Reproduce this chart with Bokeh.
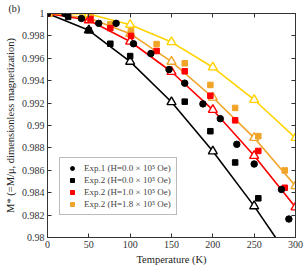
from bokeh.plotting import figure
from bokeh.models import (LinearAxis, FixedTicker, CustomJSTickFormatter, Range1d,
                          Title, Legend, LegendItem)
from bokeh.embed import file_html
from bokeh.resources import INLINE

# ---- data ----
T_model = [0, 50, 100, 150, 200, 250, 300]
model_h00 = [1.0, 0.9985, 0.9957, 0.9921, 0.9877, 0.9828, 0.9774]
model_h10 = [1.0, 0.9994, 0.9975, 0.9948, 0.9914, 0.9873, 0.9827]
model_h18 = [1.0, 0.9996, 0.9982, 0.9957, 0.9925, 0.9889, 0.9846]
model_hi = [1.0, 0.99995, 0.9990, 0.99745, 0.9952, 0.9923, 0.9889]

T_exp1 = [0, 21, 41, 62, 83, 104, 125, 147, 166, 188, 209, 229, 250, 283, 292]
M_exp1 = [1.0, 1.0, 0.99956, 0.99912, 0.99912, 0.9973, 0.99642, 0.995, 0.99378,
          0.99193, 0.99061, 0.98832, 0.98656, 0.98429, 0.98165]

T_exp2_h00 = [0, 25, 50, 76, 100, 166, 197, 227, 255]
M_exp2_h00 = [1.0, 0.9997, 0.9985, 0.9973, 0.9962, 0.99213, 0.98949, 0.9867, 0.9835]

T_exp2 = [0, 52, 76, 101, 132, 166, 197, 227, 255, 287]
M_exp2_h10 = [1.0, 0.9995, 0.9987, 0.998, 0.99665, 0.99484, 0.99266, 0.99046, 0.98773, 0.98444]
M_exp2_h18 = [1.0, 0.9999, 0.99903, 0.99842, 0.99727, 0.99555, 0.99362, 0.99157, 0.98905, 0.98599]

x_ticks = [0, 50, 100, 150, 200, 250, 300]
y_ticks = [0.98, 0.982, 0.984, 0.986, 0.988, 0.99, 0.992, 0.994, 0.996, 0.998, 1.0]

BLACK = "#000000"
RED = "#FF0000"
ORANGE = "#F0A428"
YELLOW = "#FFD200"
FONT = "Liberation Serif"

p = figure(frame_width=248, frame_height=224,
           x_range=Range1d(0, 300), y_range=Range1d(0.98, 1.0),
           output_backend="svg", toolbar_location=None,
           min_border_left=47, min_border_top=0, min_border_right=13, min_border_bottom=31)
p.xgrid.visible = False
p.ygrid.visible = False
p.outline_line_color = "#333333"
p.background_fill_color = "white"

fmt = CustomJSTickFormatter(code="return tick.toFixed(3).replace(/0+$/,'').replace(/\\.$/,'');")
for ax in p.xaxis:
    ax.ticker = FixedTicker(ticks=x_ticks)
for ax in p.yaxis:
    ax.ticker = FixedTicker(ticks=y_ticks)
    ax.formatter = fmt

for ax in p.xaxis + p.yaxis:
    ax.major_tick_in = 4
    ax.major_tick_out = 0
    ax.minor_tick_line_color = None
    ax.axis_line_color = "#333333"
    ax.major_tick_line_color = "#333333"
    ax.major_label_text_font = FONT
    ax.major_label_text_font_size = "10px"
    ax.major_label_text_color = "#333333"
    ax.axis_label_text_font = FONT
    ax.axis_label_text_font_size = "10.5px"
    ax.axis_label_text_font_style = "normal"
    ax.axis_label_text_color = "#222222"
    ax.major_label_standoff = 3
    ax.axis_label_standoff = 3

p.xaxis.axis_label = "Temperature (K)"
p.yaxis.axis_label = "M* (=M/\u03bc, dimensionless magnetization)"

blank = CustomJSTickFormatter(code="return '';")
top = LinearAxis(ticker=FixedTicker(ticks=x_ticks), formatter=blank,
                 major_tick_in=4, major_tick_out=0,
                 minor_tick_line_color=None, major_label_text_color=None,
                 axis_line_color="#333333", major_tick_line_color="#333333",
                 major_label_standoff=0)
right = LinearAxis(ticker=FixedTicker(ticks=y_ticks), formatter=blank,
                   major_tick_in=4, major_tick_out=0,
                   minor_tick_line_color=None, major_label_text_color=None,
                   axis_line_color="#333333", major_tick_line_color="#333333",
                   major_label_standoff=0)
p.add_layout(top, "above")
p.add_layout(right, "right")

p.add_layout(Title(text="(b)", align="left", offset=-39, text_font=FONT,
                   text_font_size="10px", text_font_style="normal",
                   vertical_align="bottom",
                   text_color="#222222", standoff=0), "above")

# model lines with open triangles
for ys, col in [(model_h00, BLACK), (model_h18, ORANGE), (model_h10, RED), (model_hi, YELLOW)]:
    p.line(T_model, ys, line_color=col, line_width=1.6)
    p.scatter(T_model, ys, marker="triangle", size=9, line_color=col, line_width=1.4,
              fill_color="white")

# experimental points
r_sq0 = p.scatter(T_exp2_h00, M_exp2_h00, marker="square", size=5.5, color=BLACK)
r_sq18 = p.scatter(T_exp2, M_exp2_h18, marker="square", size=5.5, color=ORANGE)
r_sq10 = p.scatter(T_exp2, M_exp2_h10, marker="square", size=5.5, color=RED)
r_c = p.scatter(T_exp1, M_exp1, marker="circle", size=6.5, color=BLACK)

legend = Legend(items=[
    LegendItem(label="Exp.1 (H=0.0 \u00d7 10\u2075 Oe)", renderers=[r_c]),
    LegendItem(label="Exp.2 (H=0.0 \u00d7 10\u2075 Oe)", renderers=[r_sq0]),
    LegendItem(label="Exp.2 (H=1.0 \u00d7 10\u2075 Oe)", renderers=[r_sq10]),
    LegendItem(label="Exp.2 (H=1.8 \u00d7 10\u2075 Oe)", renderers=[r_sq18]),
], location=(12, 22))
legend.label_text_font = FONT
legend.label_text_font_size = "9px"
legend.label_height = 10
legend.glyph_height = 10
legend.glyph_width = 14
legend.spacing = 2
legend.padding = 5
legend.margin = 0
legend.border_line_color = "#777777"
legend.border_line_width = 1
legend.background_fill_alpha = 1.0
p.add_layout(legend)

open("out.html", "w").write(file_html(p, INLINE))
